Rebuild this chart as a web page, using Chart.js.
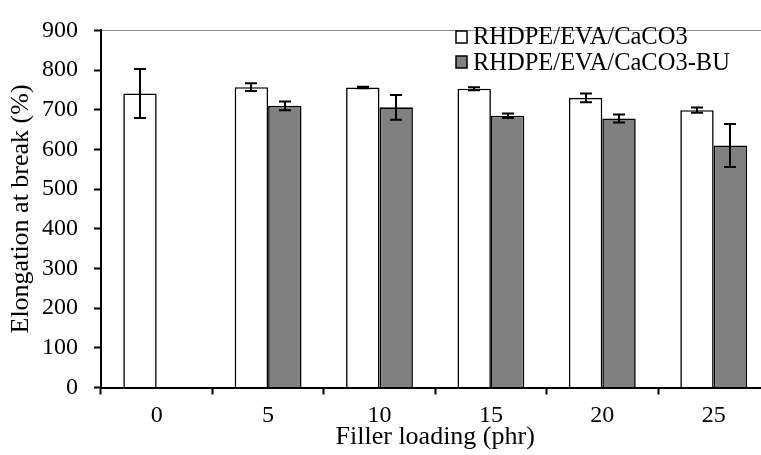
<!DOCTYPE html>
<html>
<head>
<meta charset="utf-8">
<script src="https://cdn.jsdelivr.net/npm/chart.js@4"></script>
<style>
  html, body { margin: 0; padding: 0; overflow: hidden; background: #fff; }
  #wrap { width: 780px; height: 455px; }
</style>
</head>
<body>
<div id="wrap"><canvas id="c" width="780" height="455"></canvas></div>
<script>
// ---- data ----
const categories = ['0', '5', '10', '15', '20', '25'];
const seriesNames = ['RHDPE/EVA/CaCO3', 'RHDPE/EVA/CaCO3-BU'];
const valuesA = [741, 757, 756, 753, 730, 699];
const errorsA = [62, 10, 2, 4, 11, 6.5];
const valuesB = [null, 710, 706, 685, 678, 610];
const errorsB = [null, 11, 31, 5.5, 10, 54];
const yTicks = [0, 100, 200, 300, 400, 500, 600, 700, 800, 900];
const xTitle = 'Filler loading (phr)';
const yTitle = 'Elongation at break (%)';

const FONT = '"Liberation Serif", "Times New Roman", serif';
const errorSets = [errorsA, errorsB];

const errorBarPlugin = {
  id: 'errorBars',
  afterDatasetsDraw(chart) {
    const ctx = chart.ctx;
    const y = chart.scales.y;
    ctx.save();
    ctx.strokeStyle = '#000';
    ctx.lineWidth = 2;
    chart.data.datasets.forEach((ds, di) => {
      const meta = chart.getDatasetMeta(di);
      const errs = errorSets[di];
      meta.data.forEach((bar, i) => {
        const v = ds.data[i];
        const e = errs[i];
        if (v == null || e == null) return;
        const x = Math.round(bar.x);
        const yt = y.getPixelForValue(v + e);
        const yb = y.getPixelForValue(v - e);
        ctx.beginPath();
        ctx.moveTo(x, yt); ctx.lineTo(x, yb);
        ctx.moveTo(x - 6, yt); ctx.lineTo(x + 6, yt);
        ctx.moveTo(x - 6, yb); ctx.lineTo(x + 6, yb);
        ctx.stroke();
      });
    });
    ctx.restore();
  }
};

const legendPlugin = {
  id: 'customLegend',
  afterDraw(chart) {
    const ctx = chart.ctx;
    ctx.save();
    ctx.font = '24.5px ' + FONT;
    ctx.textBaseline = 'alphabetic';
    ctx.textAlign = 'left';
    const rows = [{ boxY: 31, base: 44 }, { boxY: 56, base: 70 }];
    chart.data.datasets.forEach((ds, i) => {
      const r = rows[i];
      ctx.fillStyle = ds.backgroundColor;
      ctx.fillRect(456, r.boxY, 11, 12);
      ctx.strokeStyle = '#000';
      ctx.lineWidth = 1.5;
      ctx.strokeRect(456, r.boxY, 11, 12);
      ctx.fillStyle = '#000';
      ctx.fillText(ds.label, 473, r.base);
    });
    ctx.restore();
  }
};

new Chart(document.getElementById('c'), {
  type: 'bar',
  data: {
    labels: categories,
    datasets: [
      { label: seriesNames[0], data: valuesA, backgroundColor: '#ffffff', borderColor: '#000', borderWidth: 1.6 },
      { label: seriesNames[1], data: valuesB, backgroundColor: '#808080', borderColor: '#000', borderWidth: 1.6 }
    ]
  },
  options: {
    responsive: false,
    animation: false,
    devicePixelRatio: 1,
    layout: { padding: { left: 0, top: 17.3, right: 10.6, bottom: 0 } },
    plugins: { legend: { display: false }, tooltip: { enabled: false } },
    datasets: { bar: { categoryPercentage: 0.6, barPercentage: 1.0 } },
    scales: {
      x: {
        afterFit(s) { s.height = 67.5; },
        grid: { display: true, drawOnChartArea: false, offset: true, tickLength: 7, tickColor: '#000', tickWidth: 2 },
        border: { display: true, color: '#000', width: 2 },
        ticks: { color: '#000', padding: 7, font: { family: FONT, size: 24 } },
        title: { display: true, text: xTitle, color: '#000', font: { family: FONT, size: 26 }, padding: { top: 0, bottom: 2 } }
      },
      y: {
        min: 0, max: 900,
        afterFit(s) { s.width = 101; },
        afterBuildTicks(s) { s.ticks = yTicks.map(v => ({ value: v })); },
        grid: {
          drawOnChartArea: true,
          color: c => (c.tick && c.tick.value === 900 ? '#8c8c8c' : 'rgba(0,0,0,0)'),
          lineWidth: 1,
          tickLength: 7, tickColor: '#000', tickWidth: 2
        },
        border: { display: true, color: '#000', width: 2 },
        ticks: { color: '#000', padding: 16, font: { family: FONT, size: 24 } },
        title: { display: true, text: yTitle, color: '#000', font: { family: FONT, size: 26 }, padding: { top: 5.8, bottom: 0 } }
      }
    }
  },
  plugins: [errorBarPlugin, legendPlugin]
});
</script>
</body>
</html>
